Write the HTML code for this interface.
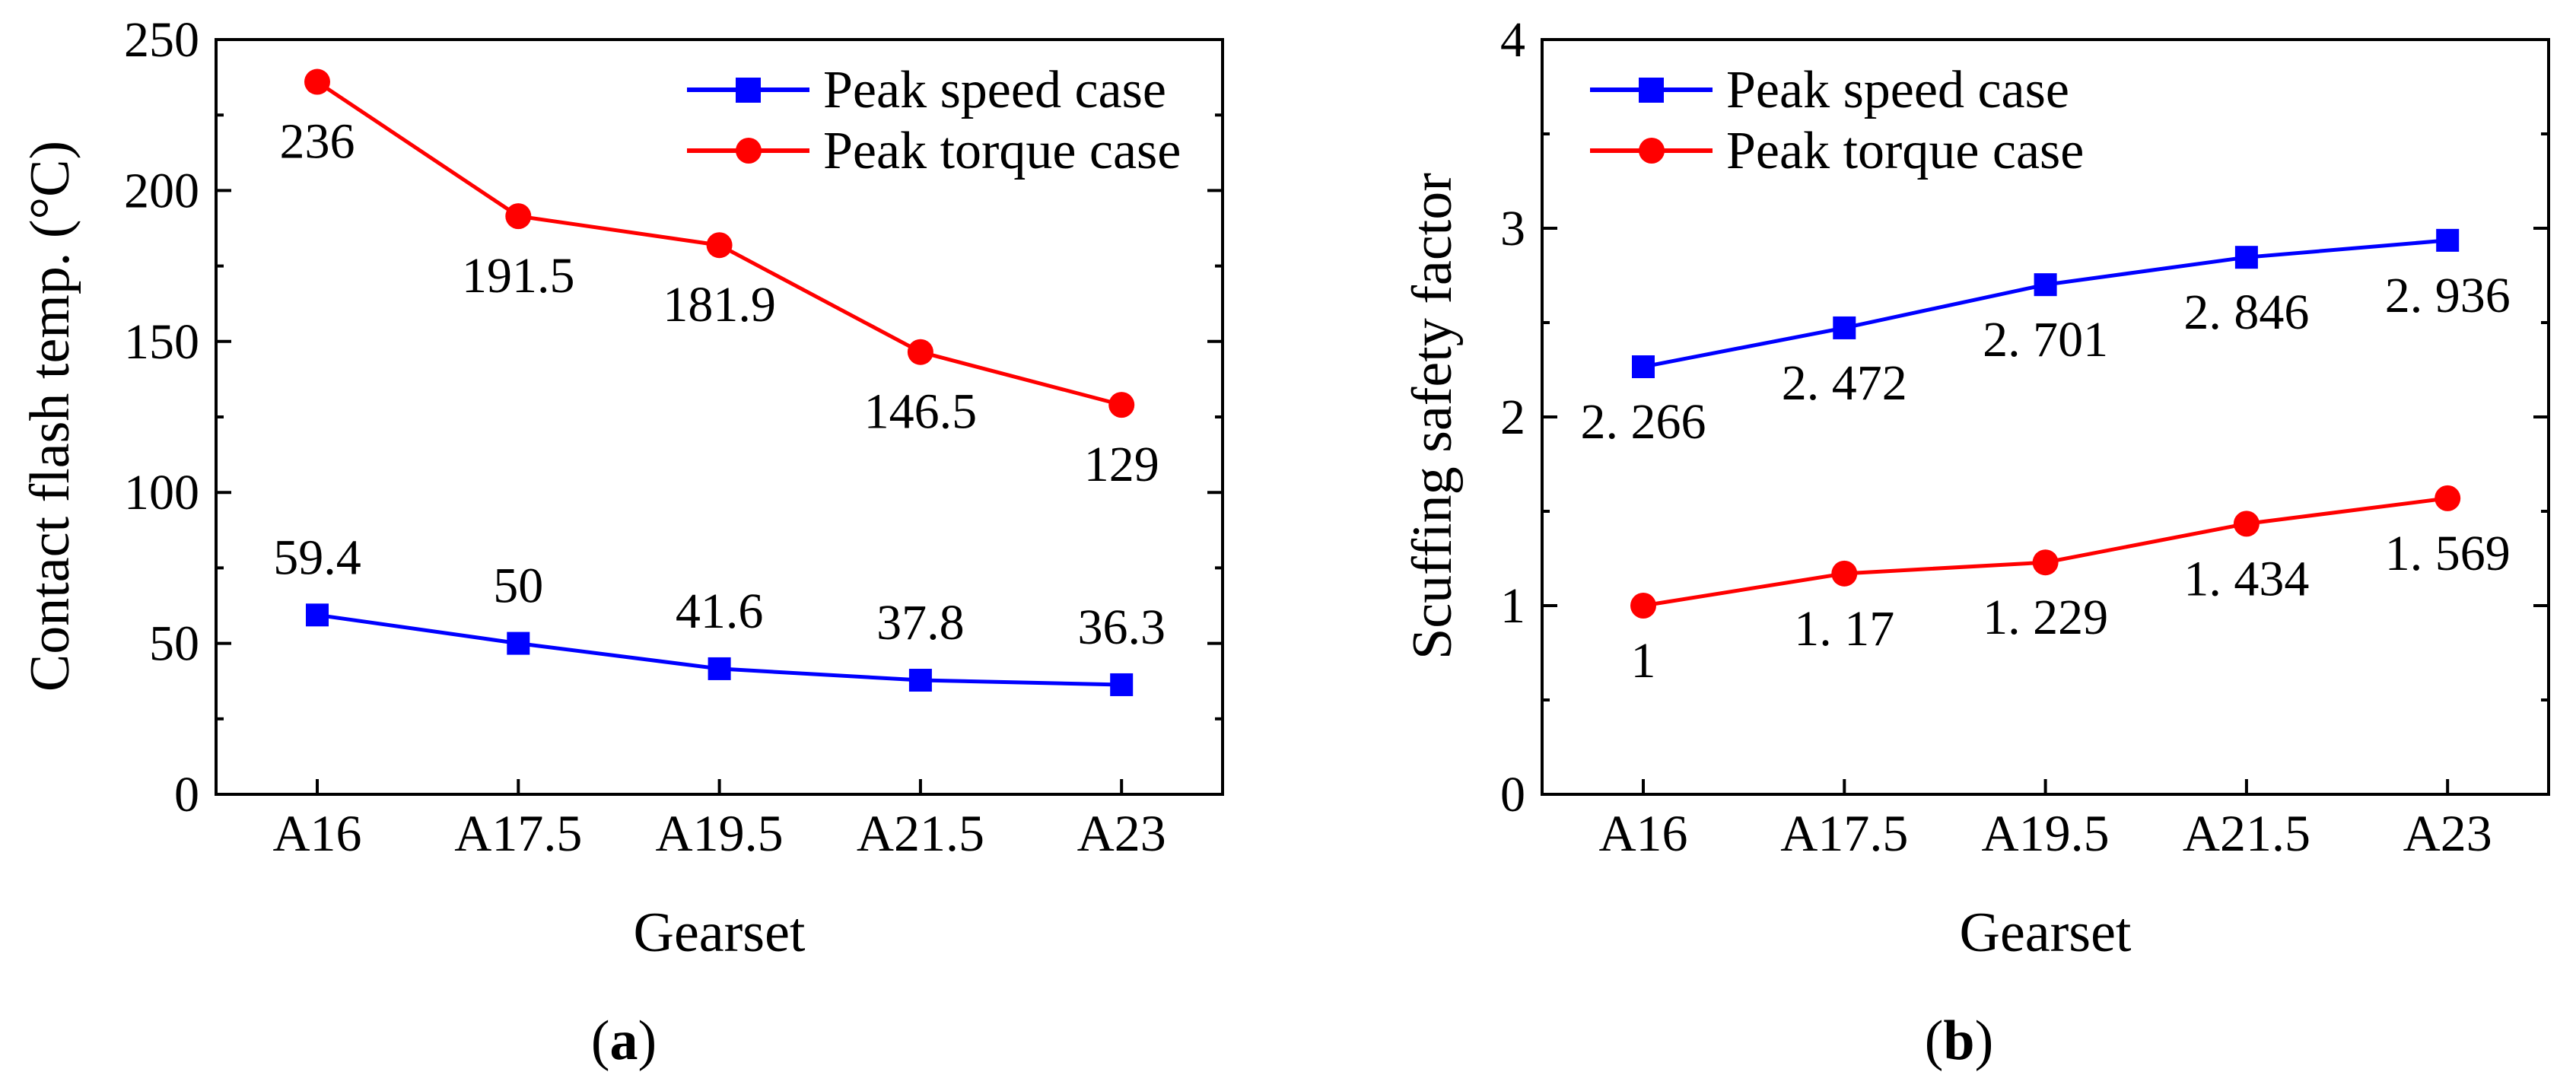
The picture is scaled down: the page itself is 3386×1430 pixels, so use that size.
<!DOCTYPE html>
<html><head><meta charset="utf-8">
<style>
html,body{margin:0;padding:0;background:#fff;}
svg{display:block;font-family:"Liberation Serif","Noto Serif CJK SC",serif;}
</style></head>
<body>
<svg id="fig" width="3386" height="1430" viewBox="0 0 3386 1430" xmlns="http://www.w3.org/2000/svg"></svg>
<script>
const categories = ["A16","A17.5","A19.5","A21.5","A23"];
const tempSpeed = [59.4, 50, 41.6, 37.8, 36.3];
const tempTorque = [236, 191.5, 181.9, 146.5, 129];
const tempSpeedLabels = ["59.4","50","41.6","37.8","36.3"];
const tempTorqueLabels = ["236","191.5","181.9","146.5","129"];
const sfSpeed = [2.266, 2.472, 2.701, 2.846, 2.936];
const sfTorque = [1, 1.17, 1.229, 1.434, 1.569];
const sfSpeedLabels = ["2. 266","2. 472","2. 701","2. 846","2. 936"];
const sfTorqueLabels = ["1","1. 17","1. 229","1. 434","1. 569"];
const tempTicks = [0,50,100,150,200,250];
const sfTicks = [0,1,2,3,4];

const NS = "http://www.w3.org/2000/svg";
const svg = document.getElementById('fig');
function mk(tag, attrs, parent){
  const e = document.createElementNS(NS, tag);
  for (const k in attrs) e.setAttribute(k, attrs[k]);
  (parent||svg).appendChild(e);
  return e;
}

function panel(opt){
  const g = mk('g', {});
  
  
  const L = opt.left, R = opt.left + 1323, T = 52, B = 1044;
  const x = i => L + 133 + i * 264.3;
  const y = v => B - (v - opt.min) / (opt.max - opt.min) * (B - T);

  // ticks
  opt.ticks.forEach((t, i) => {
    const ty = y(t);
    const tk = mk('line', {x1:L, x2:L+20, y1:ty, y2:ty, stroke:'#000','stroke-width':4}, g);
    
    
    const tr = mk('line', {x1:R-20, x2:R, y1:ty, y2:ty, stroke:'#000','stroke-width':4}, g);
    
    
    const lb = mk('text', {x:L-22, y:ty+22, 'text-anchor':'end','font-size':66}, g);
    lb.textContent = String(t);
    
    
    if (i < opt.ticks.length - 1){
      const mv = (t + opt.ticks[i+1]) / 2;
      const my = y(mv);
      const m1 = mk('line', {x1:L, x2:L+10, y1:my, y2:my, stroke:'#000','stroke-width':4}, g);
      
      
      const m2 = mk('line', {x1:R-10, x2:R, y1:my, y2:my, stroke:'#000','stroke-width':4}, g);
      
      
    }
  });
  categories.forEach((c, i) => {
    const tk = mk('line', {x1:x(i), x2:x(i), y1:B-20, y2:B, stroke:'#000','stroke-width':4}, g);
    
    
    const lb = mk('text', {x:x(i), y:1118, 'text-anchor':'middle','font-size':68}, g);
    lb.textContent = c;
    
    
  });
  const frame = mk('rect', {x:L, y:T, width:R-L, height:B-T, fill:'none', stroke:'#000','stroke-width':4}, g);
  
  

  // series
  const series = [
    {vals:opt.speed, labels:opt.speedLabels, color:'#0000ff', marker:'square', dy:opt.speedDy, name:'peak-speed'},
    {vals:opt.torque, labels:opt.torqueLabels, color:'#ff0000', marker:'circle', dy:opt.torqueDy, name:'peak-torque'}
  ];
  series.forEach(s => {
    const pts = s.vals.map((v, i) => x(i) + ',' + y(v)).join(' ');
    const pl = mk('polyline', {points:pts, fill:'none', stroke:s.color, 'stroke-width':5}, g);
    
    
    s.vals.forEach((v, i) => {
      let m;
      if (s.marker === 'square') m = mk('rect', {x:x(i)-15, y:y(v)-15, width:30, height:30, fill:s.color}, g);
      else m = mk('circle', {cx:x(i), cy:y(v), r:17, fill:s.color}, g);
      
      
      const t = mk('text', {x:x(i), y:y(v)+s.dy, 'text-anchor':'middle','font-size':66}, g);
      t.textContent = s.labels[i];
      
      
    });
  });

  // legend
  const lg = mk('g', {}, g);
  
  
  const lx = opt.legendX;
  [[118,'#0000ff','square','Peak speed case'],[198,'#ff0000','circle','Peak torque case']].forEach(r => {
    const ln = mk('line', {x1:lx, x2:lx+161, y1:r[0], y2:r[0], stroke:r[1], 'stroke-width':6}, lg);
    
    
    let m;
    if (r[2] === 'square') m = mk('rect', {x:lx+64, y:r[0]-16, width:33, height:33, fill:r[1]}, lg);
    else m = mk('circle', {cx:lx+81, cy:r[0], r:17, fill:r[1]}, lg);
    
    
    const t = mk('text', {x:lx+179, y:r[0]+23, 'font-size':70}, lg);
    t.textContent = r[3];
    
    
  });

  // titles
  const xt = mk('text', {x:(L+R)/2, y:1250, 'text-anchor':'middle','font-size':74}, g);
  xt.textContent = 'Gearset';
  
  
  const yt = mk('text', {x:0, y:0, 'text-anchor':'middle','font-size':74, transform:'translate(' + opt.ytX + ',547) rotate(-90)'}, g);
  yt.textContent = opt.yTitle;
  
  
  const cap = mk('text', {x:opt.capX, y:1392, 'text-anchor':'middle','font-size':74}, g);
  cap.innerHTML = '(<tspan font-weight="bold">' + opt.cap + '</tspan>)';
  
  
}

panel({name:'panel-a', left:284, min:0, max:250, ticks:tempTicks,
  speed:tempSpeed, torque:tempTorque, speedLabels:tempSpeedLabels, torqueLabels:tempTorqueLabels,
  speedDy:-54, torqueDy:100, legendX:903, yTitle:'Contact flash temp. (°C)', ytX:90, capX:820, cap:'a'});
panel({name:'panel-b', left:2027, min:0, max:4, ticks:sfTicks,
  speed:sfSpeed, torque:sfTorque, speedLabels:sfSpeedLabels, torqueLabels:sfTorqueLabels,
  speedDy:94, torqueDy:94, legendX:2090, yTitle:'Scuffing safety factor', ytX:1907, capX:2575, cap:'b'});
</script>
</body></html>
